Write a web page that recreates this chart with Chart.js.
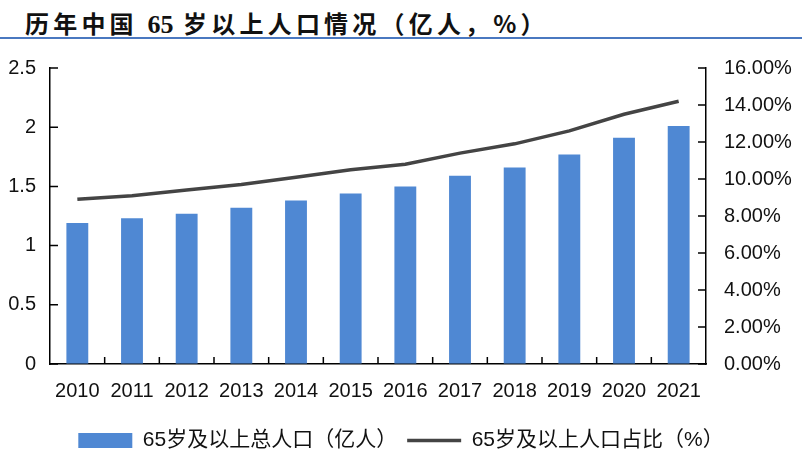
<!DOCTYPE html>
<html>
<head>
<meta charset="utf-8">
<script src="https://cdn.jsdelivr.net/npm/chart.js@4/dist/chart.umd.min.js"></script>
<style>
	body { margin: 0; background: #fff; }
	#wrap { position: relative; width: 802px; height: 461px; }
	#title {
		position: absolute; left: 25px; top: 5px;
		font: bold 24px "Noto Sans CJK SC", "Liberation Serif", serif;
		letter-spacing: 4.2px; color: #111; white-space: nowrap;
	}
	#title .num { font-family: "Liberation Serif", serif; font-size: 26px; letter-spacing: 0; }
	#rule { position: absolute; left: 0; top: 37px; width: 802px; height: 2px; background: #4a78c0; }
	canvas { position: absolute; left: 0; top: 0; }
</style>
</head>
<body>
<div id="wrap">
	<div id="title">历年中国 <span class="num">65</span> 岁以上人口情况（亿人，%）</div>
	<div id="rule"></div>
	<canvas id="chart_pop" width="802" height="461"></canvas>
</div>
<script>
const years = ['2010', '2011', '2012', '2013', '2014', '2015', '2016', '2017', '2018', '2019', '2020', '2021'];
const popTotal = [1.19, 1.23, 1.27, 1.32, 1.38, 1.44, 1.50, 1.59, 1.66, 1.77, 1.91, 2.01];
const popShare = [8.9, 9.1, 9.4, 9.7, 10.1, 10.5, 10.8, 11.4, 11.9, 12.6, 13.5, 14.2];
const seriesNames = ['65岁及以上总人口（亿人）', '65岁及以上人口占比（%）'];

const barColor = '#4f88d3';
const lineColor = '#444444';
const tickFont = { family: '"Liberation Sans", Arial, sans-serif', size: 20 };

// inward tick marks, like the original excel chart
const innerTicks = {
	id: 'innerTicks',
	afterDraw(chart) {
		const ctx = chart.ctx;
		const x = chart.scales.x, y = chart.scales.y, y1 = chart.scales.y1;
		ctx.save();
		ctx.strokeStyle = '#000';
		ctx.lineWidth = 1.5;
		ctx.beginPath();
		y.ticks.forEach(t => {
			const py = y.getPixelForValue(t.value);
			ctx.moveTo(x.left, py); ctx.lineTo(x.left + 8, py);
		});
		y1.ticks.forEach(t => {
			const py = y1.getPixelForValue(t.value);
			ctx.moveTo(x.right, py); ctx.lineTo(x.right - 8, py);
		});
		for (let i = 1; i < years.length; i++) {
			const px = (x.getPixelForValue(i - 1) + x.getPixelForValue(i)) / 2;
			ctx.moveTo(px, y.bottom); ctx.lineTo(px, y.bottom - 7);
		}
		ctx.stroke();
		ctx.restore();
	}
};

const chart_pop = new Chart(document.getElementById('chart_pop'), {
	data: {
		labels: years,
		datasets: [{
			type: 'line',
			label: seriesNames[1],
			data: popShare,
			yAxisID: 'y1',
			borderColor: lineColor,
			backgroundColor: lineColor,
			borderWidth: 3.5,
			pointRadius: 0,
			tension: 0,
			order: 0
		}, {
			type: 'bar',
			label: seriesNames[0],
			data: popTotal,
			yAxisID: 'y',
			backgroundColor: barColor,
			barPercentage: 0.4,
			categoryPercentage: 1,
			order: 1
		}]
	},
	options: {
		responsive: false,
		animation: false,
		layout: { padding: { top: 68, bottom: 0, left: 0, right: 0 } },
		scales: {
			x: {
				grid: { drawOnChartArea: false, drawTicks: false },
				border: { color: '#000', width: 1.5 },
				ticks: { color: '#111', font: tickFont, padding: 15, maxRotation: 0 },
				afterFit(s) { s.height = 56; }
			},
			y: {
				position: 'left',
				min: 0, max: 2.5,
				grid: { drawOnChartArea: false, drawTicks: false },
				border: { color: '#000', width: 1.5 },
				ticks: { stepSize: 0.5, color: '#111', font: tickFont, padding: 14, callback: v => String(v) },
				afterFit(s) { s.width = 50; }
			},
			y1: {
				position: 'right',
				min: 0, max: 16,
				grid: { drawOnChartArea: false, drawTicks: false },
				border: { color: '#000', width: 1.5 },
				ticks: {
					stepSize: 2, color: '#111', font: tickFont, padding: 18,
					callback: v => v.toFixed(2) + '%'
				},
				afterFit(s) { s.width = 96; }
			}
		},
		plugins: {
			tooltip: { enabled: false },
			legend: {
				display: true,
				position: 'bottom',
				reverse: true,
				labels: {
					usePointStyle: true,
					pointStyleWidth: 54,
					boxHeight: 15,
					padding: 10,
					color: '#111',
					font: { family: '"Liberation Sans", "Noto Sans CJK SC", sans-serif', size: 21 },
					generateLabels(chart) {
						const items = Chart.defaults.plugins.legend.labels.generateLabels(chart);
						items.forEach(it => {
							if (it.datasetIndex === 1) {
								it.pointStyle = 'rect';
								it.fillStyle = barColor;
								it.strokeStyle = barColor;
								it.lineWidth = 0;
							} else {
								it.pointStyle = 'line';
								it.strokeStyle = lineColor;
								it.lineWidth = 3.5;
							}
						});
						return items;
					}
				}
			}
		}
	},
	plugins: [innerTicks]
});
</script>
</body>
</html>
